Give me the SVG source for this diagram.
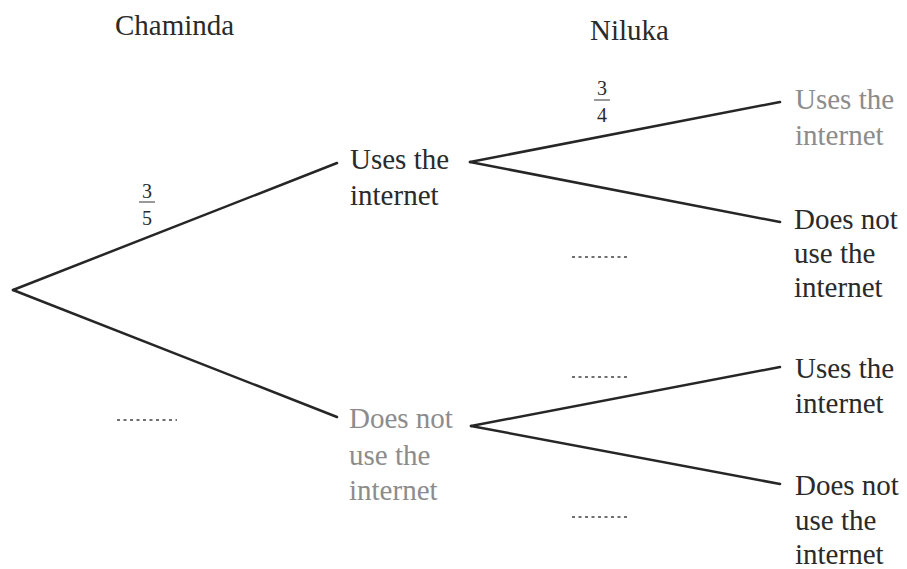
<svg xmlns="http://www.w3.org/2000/svg" width="907" height="569" viewBox="0 0 907 569" font-family="'Liberation Serif', serif">
<style>
text{font-family:'Liberation Serif',serif}
.t{font-size:29px;fill:#2a2a2a}
.g{fill:#8c8c8c}
.f{font-size:20px;fill:#2a2a2a;text-anchor:middle}
.e{stroke:#262626;stroke-width:2.5;fill:none;stroke-linecap:round}
.fl{stroke:#555;stroke-width:1.2}
.d{stroke:#707070;stroke-width:2;stroke-dasharray:3 3.5}
</style>
<rect width="907" height="569" fill="#ffffff"/>
<g id="connectors">
<line class="e" x1="13" y1="290" x2="337" y2="163"/>
<line class="e" x1="13" y1="290" x2="337" y2="417"/>
<line class="e" x1="470" y1="162" x2="780" y2="102"/>
<line class="e" x1="470" y1="162" x2="780" y2="222"/>
<line class="e" x1="471" y1="426" x2="780" y2="367"/>
<line class="e" x1="471" y1="426" x2="780" y2="484"/>
</g>
<g id="headers">
<text class="t" x="115" y="35">Chaminda</text>
<text class="t" x="590" y="40">Niluka</text>
</g>
<g id="prob-c-yes">
<text class="f" x="147" y="198">3</text>
<line class="fl" x1="139" y1="202" x2="155" y2="202"/>
<text class="f" x="147" y="225">5</text>
</g>
<g id="prob-n-yes-yes">
<text class="f" x="602" y="95">3</text>
<line class="fl" x1="594" y1="100" x2="610" y2="100"/>
<text class="f" x="602" y="122">4</text>
</g>
<g id="blanks">
<line class="d" x1="117" y1="420" x2="177" y2="420"/>
<line class="d" x1="572" y1="257" x2="630" y2="257"/>
<line class="d" x1="572" y1="377" x2="630" y2="377"/>
<line class="d" x1="572" y1="517" x2="630" y2="517"/>
</g>
<g id="c-uses">
<text class="t" x="350" y="169">Uses the</text>
<text class="t" x="350" y="205">internet</text>
</g>
<g id="c-not">
<text class="t g" x="349" y="428">Does not</text>
<text class="t g" x="349" y="465">use the</text>
<text class="t g" x="349" y="500">internet</text>
</g>
<g id="n-uu">
<text class="t g" x="795" y="109">Uses the</text>
<text class="t g" x="795" y="145">internet</text>
</g>
<g id="n-un">
<text class="t" x="794" y="229">Does not</text>
<text class="t" x="794" y="263">use the</text>
<text class="t" x="794" y="297">internet</text>
</g>
<g id="n-nu">
<text class="t" x="795" y="378">Uses the</text>
<text class="t" x="795" y="413">internet</text>
</g>
<g id="n-nn">
<text class="t" x="795" y="495">Does not</text>
<text class="t" x="795" y="530">use the</text>
<text class="t" x="795" y="564">internet</text>
</g>
</svg>
